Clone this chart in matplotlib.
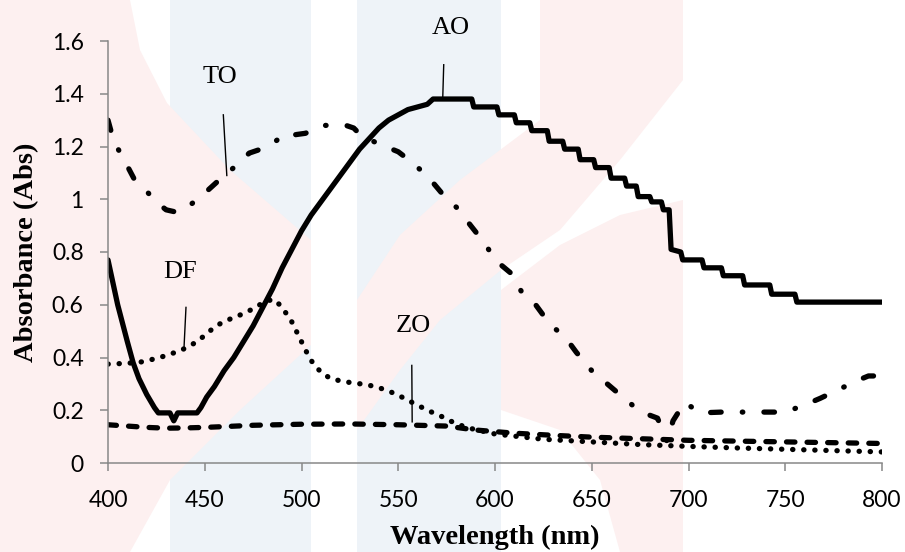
import matplotlib
matplotlib.use("Agg")
import matplotlib.pyplot as plt
from matplotlib.patches import Polygon, Rectangle

# ---- data -------------------------------------------------------------
ao_nm = [400, 405, 410, 413, 416, 420, 424, 426, 432, 434, 436, 446, 448, 451,
         455, 460, 465, 470, 475, 480, 485, 490, 495, 500, 505, 510, 515, 520,
         525, 530, 535, 540, 545, 550, 555, 560, 565, 568, 588, 589, 601, 602,
         610, 611, 618, 619, 627, 628, 635, 636, 643, 644, 651, 652, 659, 660,
         667, 668, 673, 674, 680, 681, 686, 687, 690, 691, 696, 697, 707, 708,
         717, 718, 728, 729, 742, 743, 755, 756, 800]
ao_abs = [0.77, 0.60, 0.46, 0.38, 0.32, 0.26, 0.21, 0.19, 0.19, 0.16, 0.19, 0.19,
          0.21, 0.25, 0.29, 0.35, 0.40, 0.46, 0.52, 0.59, 0.66, 0.74, 0.81, 0.88,
          0.94, 0.99, 1.04, 1.09, 1.14, 1.19, 1.23, 1.27, 1.30, 1.32, 1.34, 1.35,
          1.36, 1.38, 1.38, 1.35, 1.35, 1.32, 1.32, 1.29, 1.29, 1.26, 1.26, 1.22,
          1.22, 1.19, 1.19, 1.15, 1.15, 1.12, 1.12, 1.08, 1.08, 1.05, 1.05, 1.01,
          1.01, 0.99, 0.99, 0.96, 0.96, 0.81, 0.80, 0.77, 0.77, 0.74, 0.74, 0.71,
          0.71, 0.675, 0.675, 0.64, 0.64, 0.61, 0.61]

to_nm = [400, 403, 409, 414, 420, 425, 430, 436, 441, 448, 457, 465, 473, 483,
         492, 497, 502, 511, 523, 527, 531, 540, 550, 558, 566, 574, 580, 588,
         595, 600, 609, 614, 621, 628, 637, 642, 650, 658, 666, 675, 684, 689,
         692, 698, 706, 717, 728, 738, 750, 760, 768, 778, 788, 793, 797]
to_abs = [1.30, 1.22, 1.14, 1.07, 1.03, 0.99, 0.96, 0.95, 0.97, 1.01, 1.07, 1.12,
          1.175, 1.20, 1.25, 1.245, 1.25, 1.28, 1.28, 1.27, 1.24, 1.21, 1.18,
          1.135, 1.08, 1.01, 0.97, 0.895, 0.83, 0.77, 0.715, 0.645, 0.60, 0.53,
          0.47, 0.42, 0.35, 0.30, 0.25, 0.195, 0.17, 0.08, 0.16, 0.23, 0.19,
          0.193, 0.193, 0.193, 0.193, 0.22, 0.245, 0.28, 0.315, 0.33, 0.33]

zo_nm = [400, 410, 420, 430, 440, 450, 460, 475, 500, 525, 550, 560, 575, 590,
         610, 630, 650, 675, 700, 725, 750, 775, 800]
zo_abs = [0.145, 0.14, 0.135, 0.132, 0.133, 0.135, 0.138, 0.143, 0.147, 0.148,
          0.145, 0.143, 0.14, 0.125, 0.113, 0.105, 0.098, 0.092, 0.086, 0.083,
          0.08, 0.077, 0.074]

df_nm = [400, 410, 417, 423, 429, 435, 440, 446, 450, 455, 460, 466, 472, 477,
         482, 486, 490, 495, 500, 503, 506, 510, 515, 521, 527, 533, 539, 545,
         550, 555, 560, 566, 572, 576, 585, 600, 625, 650, 675, 700, 725, 750,
         775, 800]
df_abs = [0.375, 0.378, 0.383, 0.393, 0.405, 0.42, 0.435, 0.46, 0.484, 0.515,
          0.537, 0.554, 0.573, 0.594, 0.615, 0.62, 0.59, 0.535, 0.46, 0.415,
          0.377, 0.345, 0.32, 0.31, 0.303, 0.298, 0.288, 0.273, 0.257, 0.238,
          0.219, 0.197, 0.178, 0.162, 0.135, 0.11, 0.09, 0.08, 0.07, 0.063,
          0.057, 0.052, 0.047, 0.042]

# curve labels: name, text position, leader line start / end (nm, Abs)
labels = ["TO", "AO", "DF", "ZO"]
label_xy = [(458, 1.465), (577, 1.65), (437, 0.725), (558, 0.52)]
leader_from = [(459.6, 1.32), (573.5, 1.51), (440.3, 0.59), (557, 0.37)]
leader_to = [(461.4, 1.09), (573.0, 1.385), (439.3, 0.44), (557.2, 0.156)]

x_ticks = [400, 450, 500, 550, 600, 650, 700, 750, 800]
y_ticks = [0, 0.2, 0.4, 0.6, 0.8, 1.0, 1.2, 1.4, 1.6]
y_tick_labels = ["0", "0.2", "0.4", "0.6", "0.8", "1", "1.2", "1.4", "1.6"]

# ---- figure -------------------------------------------------------------
W, H = 905, 552
fig = plt.figure(figsize=(W / 100, H / 100), dpi=100)

# faint background logo
bg = fig.add_axes([0, 0, 1, 1], zorder=0)
bg.set_xlim(0, W)
bg.set_ylim(H, 0)
bg.axis("off")
pink = "#fdf0f0"
blue = "#eef3f8"
bg.add_patch(Rectangle((170, 0), 141, H, color=blue, lw=0))
bg.add_patch(Rectangle((357, 0), 144, H, color=blue, lw=0))
bg.add_patch(Polygon([(0, 0), (130, 0), (140, 50), (167, 103), (230, 170),
                      (311, 240), (311, 345), (240, 410), (170, 480),
                      (130, 552), (0, 552)], color=pink, lw=0))
bg.add_patch(Polygon([(540, 0), (683, 0), (683, 80), (620, 160), (560, 230),
                      (501, 270), (440, 320), (400, 370), (357, 430),
                      (357, 300), (400, 235), (460, 180), (540, 120)],
                     color=pink, lw=0))
bg.add_patch(Polygon([(501, 290), (560, 245), (620, 215), (683, 200),
                      (683, 552), (620, 552), (600, 480), (560, 430),
                      (501, 410)], color=pink, lw=0))

ax = fig.add_axes([108 / W, 1 - 463 / H, 774 / W, 422 / H], zorder=1)
ax.set_facecolor("none")

lw = 3.8
ax.plot(ao_nm, ao_abs, color="black", lw=lw, solid_capstyle="round",
        solid_joinstyle="round")
ax.plot(to_nm, to_abs, color="black", lw=lw, ls=(0, (2.0, 4.0, 0.1, 4.0)),
        dash_capstyle="round")
ax.plot(zo_nm, zo_abs, color="black", lw=lw, ls=(0, (1.6, 2.3)),
        dash_capstyle="round")
ax.plot(df_nm, df_abs, color="black", lw=lw, ls=(0, (0.05, 2.05)),
        dash_capstyle="round")

for name, txy, p0, p1 in zip(labels, label_xy, leader_from, leader_to):
    ax.text(txy[0], txy[1], name, ha="center", va="center",
            family="Liberation Serif", fontsize=19, clip_on=False)
    ax.plot([p0[0], p1[0]], [p0[1], p1[1]], color="black", lw=1.0,
            clip_on=False)

ax.set_xlim(400, 800)
ax.set_ylim(0, 1.6)
ax.set_xticks(x_ticks)
ax.set_yticks(y_ticks)
ax.set_yticklabels(y_tick_labels)

spine_c = "#888888"
for s in ("top", "right"):
    ax.spines[s].set_visible(False)
for s in ("left", "bottom"):
    ax.spines[s].set_color(spine_c)
    ax.spines[s].set_linewidth(1.1)
ax.tick_params(axis="both", direction="out", length=5.5, width=1.1,
               color=spine_c, labelsize=16.5, labelcolor="black")
ax.tick_params(axis="y", pad=12)
ax.tick_params(axis="x", pad=14)
for lab in ax.get_xticklabels() + ax.get_yticklabels():
    lab.set_family("Lato")

ax.set_xlabel("Wavelength (nm)", family="Liberation Serif", fontweight="bold",
              fontsize=20.5, labelpad=10)
ax.set_ylabel("Absorbance (Abs)", family="Liberation Serif", fontweight="bold",
              fontsize=20.5, labelpad=9)

fig.savefig("out.png", dpi=100)
